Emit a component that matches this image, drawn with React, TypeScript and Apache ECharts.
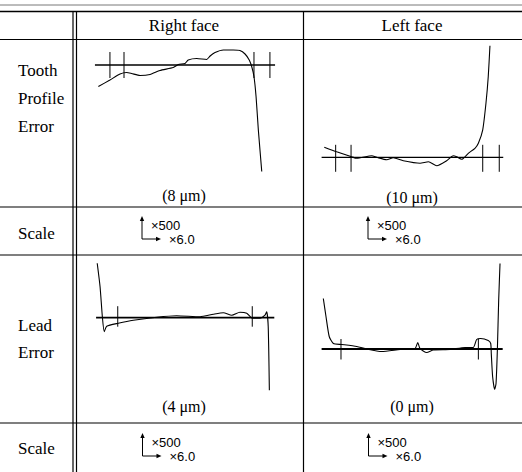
import React, { useEffect, useRef } from "react";
import * as echarts from "echarts";

// ---- data (x: % of evaluation length, y: deviation units, reference line at 0) ----
const profileRightX = [4.4, 10.5, 15.8, 19.3, 21.9, 26.3, 31.6, 36.8, 43.8, 46.5, 50.0, 51.7, 56.2, 61.4, 63.2, 65.8, 70.2, 75.4, 78.9, 81.6, 83.8, 85.1, 86.3, 87.4, 88.6, 90.4];
const profileRightY = [-4.3, -3.0, -1.8, -1.5, -1.7, -2.1, -1.9, -1.1, -0.5, 0.1, 0.3, 1.0, 1.3, 1.1, 1.8, 2.5, 3.0, 3.0, 2.9, 2.2, 1.0, -0.3, -2.3, -6.3, -13.0, -21.3];

const profileLeftX = [3.3, 9.8, 17.7, 20.4, 28.3, 30.9, 36.2, 39.6, 44.9, 53.7, 58.1, 62.5, 67.7, 71.2, 73.0, 75.6, 79.1, 82.6, 84.4, 86.7, 88.4, 89.6, 90.5];
const profileLeftY = [2.0, 1.1, 0.1, -0.2, 0.3, 0.0, -0.5, -0.1, -0.7, -1.2, -0.9, -1.7, -0.7, 0.3, 0.1, -0.4, 0.8, 1.8, 2.8, 5.5, 10.8, 16.1, 22.3];

const leadRightX = [3.8, 5.3, 6.5, 7.5, 8.8, 14.9, 22.8, 35.1, 45.6, 57.9, 64.9, 70.2, 74.6, 78.9, 82.5, 85.4, 89.5, 92.1, 93.0, 93.8, 94.4];
const leadRightY = [10.9, 6.2, 0.2, -2.8, -1.7, -1.1, -0.5, 0.1, 0.4, 0.2, 0.7, 1.0, 0.5, 1.1, 0.9, -0.1, -0.1, 0.5, 1.2, -1.8, -14.5];

const leadLeftX = [2.8, 4.2, 5.9, 8.1, 12.5, 20.4, 25.6, 33.5, 43.2, 51.1, 52.5, 53.7, 57.2, 60.7, 69.5, 77.4, 81.7, 83.5, 85.6, 89.6, 90.9, 91.2, 91.9, 93.0, 93.7, 94.4, 95.1, 95.8];
const leadLeftY = [10.1, 6.5, 2.5, 1.1, 0.9, 0.5, 0.0, -0.5, -0.1, 0.1, 1.3, 0.1, -0.7, -0.2, -0.1, 0.3, 0.3, 1.9, 2.1, 1.7, 1.1, -0.9, -5.5, -8.1, -6.9, -0.2, 9.8, 17.1];

// reference line extents and tick marks (x positions)
const refProfileRight = [2.6, 97.4];
const ticksProfileRight = [10.5, 17.9, 86.3, 94.7];
const refProfileLeft = [1.9, 97.5];
const ticksProfileLeft = [9.3, 17.4, 86.7, 95.4];
const refLeadRight = [3.2, 97.0];
const ticksLeadRight = [14.6, 85.4];
const refLeadLeft = [1.9, 97.2];
const ticksLeadLeft = [12.1, 84.4];

// texts
const columnHeaders = ["Right face", "Left face"];
const rowLabelsProfile = ["Tooth", "Profile", "Error"];
const rowLabelsLead = ["Lead", "Error"];
const scaleLabel = "Scale";
const profileValues = ["(8 \u03bcm)", "(10 \u03bcm)"];
const leadValues = ["(4 \u03bcm)", "(0 \u03bcm)"];
const scaleVertical = "\u00d7500";
const scaleHorizontal = "\u00d76.0";

// ---- layout ----
const PX_PER_UNIT = 5;
type Panel = { left: number; refY: number; ymax: number; ymin: number; xs: number[]; ys: number[]; ref: number[]; ticks: number[]; tickUp: number; tickDown: number; refWidth: number };
const panels: Panel[] = [
  { left: 90, refY: 65, ymax: 5, ymin: -23, xs: profileRightX, ys: profileRightY, ref: refProfileRight, ticks: ticksProfileRight, tickUp: 2.6, tickDown: -2.6, refWidth: 1.3 },
  { left: 318, refY: 157.3, ymax: 24, ymin: -6, xs: profileLeftX, ys: profileLeftY, ref: refProfileLeft, ticks: ticksProfileLeft, tickUp: 2.5, tickDown: -2.9, refWidth: 1.3 },
  { left: 90, refY: 317.7, ymax: 12, ymin: -16, xs: leadRightX, ys: leadRightY, ref: refLeadRight, ticks: ticksLeadRight, tickUp: 2.3, tickDown: -1.8, refWidth: 1.8 },
  { left: 318, refY: 349, ymax: 18, ymin: -10, xs: leadLeftX, ys: leadLeftY, ref: refLeadLeft, ticks: ticksLeadLeft, tickUp: 2.0, tickDown: -2.1, refWidth: 1.8 },
];
const PANEL_W = 190;
const INK = "#000000";
const SERIF = "'Liberation Serif', 'DejaVu Serif', serif";
const NARROW = "'Liberation Sans Narrow', 'Liberation Sans', sans-serif";

function hline(y: number, x1: number, x2: number, w = 1, color = INK) {
  return { type: "line", shape: { x1, y1: y, x2, y2: y }, style: { stroke: color, lineWidth: w }, silent: true };
}
function vline(x: number, y1: number, y2: number, w = 1, color = INK) {
  return { type: "line", shape: { x1: x, y1, x2: x, y2 }, style: { stroke: color, lineWidth: w }, silent: true };
}
function text(t: string, x: number, y: number, size: number, align = "left", family = SERIF) {
  return { type: "text", x, y, style: { text: t, font: `${size}px ${family}`, fill: INK, align, verticalAlign: "middle" }, silent: true };
}
function scaleMark(x: number, rowTop: number) {
  const yTop = rowTop + 10;
  const yCorner = rowTop + 32;
  const xEnd = x + 18;
  return [
    { type: "polyline", shape: { points: [[x, yTop + 2], [x, yCorner], [xEnd - 3, yCorner]] }, style: { stroke: INK, lineWidth: 1, fill: "none" }, silent: true },
    { type: "polygon", shape: { points: [[x - 2.2, yTop + 4], [x, yTop - 1], [x + 2.2, yTop + 4]] }, style: { fill: INK }, silent: true },
    { type: "polygon", shape: { points: [[xEnd - 4, yCorner - 2.2], [xEnd + 1, yCorner], [xEnd - 4, yCorner + 2.2]] }, style: { fill: INK }, silent: true },
    text(scaleVertical, x + 9, yTop + 8, 13, "left", NARROW),
    text(scaleHorizontal, x + 27, yCorner, 13, "left", NARROW),
  ];
}

export default function App() {
  const ref = useRef<HTMLDivElement>(null);
  useEffect(() => {
    if (!ref.current) return;
    const chart = echarts.init(ref.current, undefined, { renderer: "svg" });

    const grid: any[] = [];
    const xAxis: any[] = [];
    const yAxis: any[] = [];
    const series: any[] = [];
    panels.forEach((p, i) => {
      grid.push({ left: p.left, top: p.refY - p.ymax * PX_PER_UNIT, width: PANEL_W, height: (p.ymax - p.ymin) * PX_PER_UNIT, containLabel: false });
      xAxis.push({ gridIndex: i, type: "value", min: 0, max: 100, show: false });
      yAxis.push({ gridIndex: i, type: "value", min: p.ymin, max: p.ymax, show: false });
      series.push({
        type: "line", xAxisIndex: i, yAxisIndex: i, symbol: "none", smooth: 0.2, clip: false,
        data: p.xs.map((x, k) => [x, p.ys[k]]),
        lineStyle: { color: INK, width: 1.1 },
      });
      series.push({
        type: "line", xAxisIndex: i, yAxisIndex: i, symbol: "none", clip: false,
        data: [[p.ref[0], 0], [p.ref[1], 0]],
        lineStyle: { color: INK, width: p.refWidth },
      });
      p.ticks.forEach((t) => {
        series.push({
          type: "line", xAxisIndex: i, yAxisIndex: i, symbol: "none", clip: false,
          data: [[t, p.tickUp], [t, p.tickDown]],
          lineStyle: { color: INK, width: 1 },
        });
      });
    });

    const graphic: any[] = [
      hline(5, 0, 522, 0.8, "#555"),
      hline(11.5, 0, 522, 1.5),
      hline(39.5, 0, 522, 1.2),
      hline(207, 0, 522, 1.2),
      hline(255, 0, 522, 1.2),
      hline(423, 0, 522, 1.2),
      vline(73, 11.5, 472, 1.2),
      vline(76.5, 11.5, 472, 1.2),
      vline(303.5, 11.5, 472, 1.2),
      text(columnHeaders[0], 184, 25, 17, "center"),
      text(columnHeaders[1], 412, 25, 17, "center"),
      ...rowLabelsProfile.map((t, k) => text(t, 18, 70 + k * 28, 17)),
      text(scaleLabel, 18, 233, 17),
      ...rowLabelsLead.map((t, k) => text(t, 18, 325 + k * 27, 17)),
      text(scaleLabel, 18, 448, 17),
      text(profileValues[0], 184, 195, 16, "center"),
      text(profileValues[1], 412, 197, 16, "center"),
      text(leadValues[0], 184, 406, 16, "center"),
      text(leadValues[1], 412, 406, 16, "center"),
      ...scaleMark(142, 207),
      ...scaleMark(368, 207),
      ...scaleMark(142.5, 424),
      ...scaleMark(368.5, 424),
    ];

    chart.setOption({
      animation: false,
      backgroundColor: "#ffffff",
      grid, xAxis, yAxis, series, graphic,
    });
    return () => chart.dispose();
  }, []);
  return <div ref={ref} style={{ position: "fixed", left: 0, top: 0, width: 522, height: 472 }} />;
}
